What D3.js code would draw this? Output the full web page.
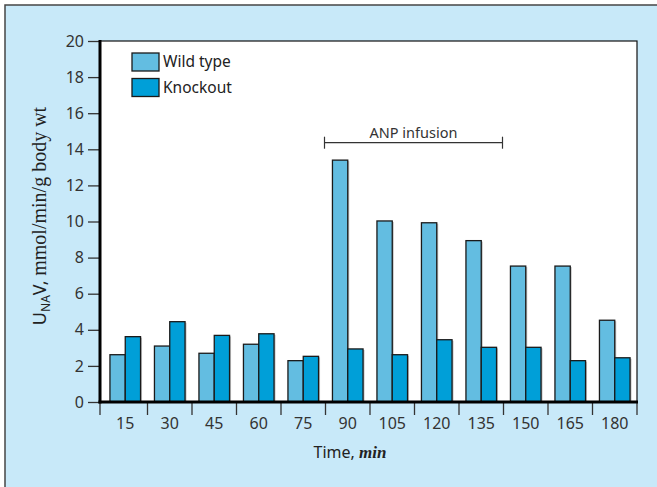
<!DOCTYPE html>
<html><head><meta charset="utf-8">
<script src="https://cdn.jsdelivr.net/npm/d3@7/dist/d3.min.js"></script>
<style>body{margin:0;background:#fff}svg{display:block}</style>
</head><body>
<svg id="c" width="657" height="487"></svg>
<script>
const categories = ["15","30","45","60","75","90","105","120","135","150","165","180"];
const wildType = [2.62,3.1,2.7,3.2,2.29,13.4,10.03,9.93,8.94,7.53,7.53,4.53];
const knockout = [3.62,4.45,3.69,3.78,2.53,2.94,2.62,3.45,3.03,3.03,2.29,2.45];
const yTicks = [0,2,4,6,8,10,12,14,16,18,20];
const seriesNames = ["Wild type","Knockout"];
const infusion = {from:"90", to:"135", label:"ANP infusion"};

const svg = d3.select("#c");
const colors = ["#63bde1","#009fd8"];
const sans = "'Noto Sans', 'Open Sans', sans-serif";
const serif = "'Liberation Serif', 'DejaVu Serif', serif";

svg.append("rect").attr("x",0).attr("y",0).attr("width",657).attr("height",487).attr("fill","#fff");
svg.append("rect").attr("x",5).attr("y",5).attr("width",660).attr("height",490)
  .attr("fill","#c8e9f9").attr("stroke","#454545").attr("stroke-width",1.5);

const L=100, R=637, T=41, B=402;
const x = d3.scaleBand().domain(categories).range([103,R]);
const y = d3.scaleLinear().domain([0,20]).range([B,T]);
const bw = 15.3;

svg.append("rect").attr("x",L).attr("y",T).attr("width",R-L).attr("height",B-T)
  .attr("fill","#fff").attr("stroke","#111").attr("stroke-width",1.2);

const g = svg.append("g");
[wildType, knockout].forEach((vals, si) => {
  const off = si===0 ? -bw : 0;
  g.selectAll(null).data(vals).enter().append("rect")
    .attr("x",(d,i)=>x(categories[i])+x.bandwidth()/2+off+1.5)
    .attr("y",d=>y(d)+1)
    .attr("width",bw).attr("height",d=>B-y(d))
    .attr("fill","#9a9a9a").attr("opacity",0.6);
});
[wildType, knockout].forEach((vals, si) => {
  const off = si===0 ? -bw : 0;
  g.selectAll(null).data(vals).enter().append("rect")
    .attr("x",(d,i)=>x(categories[i])+x.bandwidth()/2+off)
    .attr("y",d=>y(d))
    .attr("width",bw).attr("height",d=>B-y(d))
    .attr("fill",colors[si]).attr("stroke","#1a1a1a").attr("stroke-width",1.3);
});

const yAx = svg.append("g").attr("transform",`translate(${L},0)`)
  .call(d3.axisLeft(y).tickValues(yTicks).tickSize(12).tickPadding(4).tickFormat(d3.format("d")));
yAx.select(".domain").remove();
yAx.selectAll(".tick line").attr("stroke","#333").attr("stroke-width",1.3);
yAx.selectAll(".tick text").attr("font-family",sans).attr("font-size",16).attr("fill","#333");
svg.append("line").attr("x1",L).attr("x2",L).attr("y1",T-1).attr("y2",B+1.5)
  .attr("stroke","#000").attr("stroke-width",3);

const xAx = svg.append("g").attr("transform",`translate(0,${B})`)
  .call(d3.axisBottom(x).tickSize(0).tickPadding(16));
xAx.select(".domain").remove();
xAx.selectAll(".tick text").attr("font-family",sans).attr("font-size",16).attr("fill","#333");
const edges = [L].concat(categories.slice(1).map(c=>x(c))).concat([R]);
svg.append("g").selectAll("line").data(edges).enter().append("line")
  .attr("x1",d=>d).attr("x2",d=>d).attr("y1",B).attr("y2",B+13)
  .attr("stroke","#333").attr("stroke-width",1.3);
svg.append("line").attr("x1",L-1.5).attr("x2",R+1).attr("y1",B).attr("y2",B)
  .attr("stroke","#000").attr("stroke-width",3);

seriesNames.forEach((n,i)=>{
  svg.append("rect").attr("x",132).attr("y",53+i*25.5).attr("width",27).attr("height",18)
    .attr("fill",colors[i]).attr("stroke","#1a1a1a").attr("stroke-width",1.3);
  svg.append("text").attr("x",163).attr("y",67+i*25.5).text(n)
    .attr("font-family",sans).attr("font-size",15.5).attr("fill","#222");
});

const ax1 = x(infusion.from) - 1, ax2 = x(infusion.to)+x.bandwidth()-1;
const by = 142.7;
const br = svg.append("g").attr("stroke","#333").attr("stroke-width",1.2);
br.append("line").attr("x1",ax1).attr("x2",ax2).attr("y1",by).attr("y2",by);
br.append("line").attr("x1",ax1).attr("x2",ax1).attr("y1",by-6).attr("y2",by+6);
br.append("line").attr("x1",ax2).attr("x2",ax2).attr("y1",by-6).attr("y2",by+6);
svg.append("text").attr("x",(ax1+ax2)/2).attr("y",138).attr("text-anchor","middle")
  .attr("font-family",sans).attr("font-size",14.5).attr("fill","#333").text(infusion.label);

const xl = svg.append("text").attr("x",350).attr("y",458).attr("text-anchor","middle")
  .attr("font-size",16).attr("fill","#222");
xl.append("tspan").attr("font-family",sans).text("Time, ");
xl.append("tspan").attr("font-family",serif).attr("font-style","italic").attr("font-weight","bold").attr("font-size",17).text("min");

const yl = svg.append("text").attr("transform","translate(46,216) rotate(-90)")
  .attr("text-anchor","middle").attr("font-size",18).attr("fill","#222");
yl.append("tspan").attr("font-family",sans).text("U");
yl.append("tspan").attr("font-family",sans).attr("font-size",12).attr("dy",4).text("NA");
yl.append("tspan").attr("font-family",sans).attr("dy",-4).text("V, ");
yl.append("tspan").attr("font-family",serif).attr("font-size",20).text("mmol/min/g body wt");
</script>
</body></html>
